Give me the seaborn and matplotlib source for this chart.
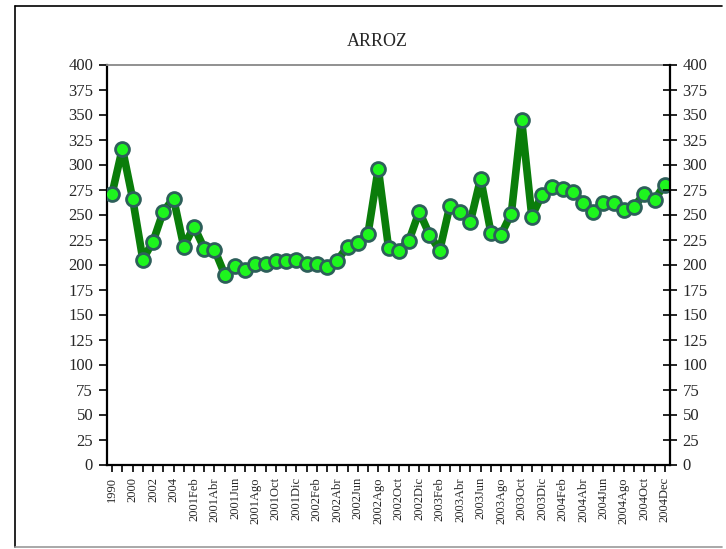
import matplotlib
matplotlib.use("Agg")
import matplotlib.pyplot as plt
from matplotlib.lines import Line2D
import seaborn as sns
import pandas as pd
import numpy as np

annual = ["1990", "1995", "2000", "2001", "2002", "2003", "2004"]
months_es = ["Ene", "Feb", "Mar", "Abr", "May", "Jun", "Jul", "Ago", "Sep", "Oct", "Nov", "Dic"]
months_04 = ["Ene", "Feb", "Mar", "Abr", "May", "Jun", "Jul", "Ago", "Sep", "Oct", "Nov", "Dec"]
categories = (annual
              + ["2001" + m for m in months_es]
              + ["2002" + m for m in months_es]
              + ["2003" + m for m in months_es]
              + ["2004" + m for m in months_04])

values = [271, 316, 266, 205, 223, 253, 266, 218, 238, 216,
          215, 190, 199, 195, 201, 201, 204, 204, 205, 201,
          201, 198, 204, 218, 222, 231, 296, 217, 214, 224,
          253, 230, 214, 259, 253, 243, 286, 232, 230, 251,
          345, 248, 270, 278, 276, 273, 262, 253, 262, 262,
          255, 258, 271, 265, 280]

y_ticks = list(range(0, 401, 25))
title = "ARROZ"

df = pd.DataFrame({"pos": np.arange(len(categories)), "cat": categories, "val": values})

sns.set_theme(style="white")
plt.rcParams["font.family"] = ["Liberation Serif", "DejaVu Serif"]

W, H = 726, 549
fig = plt.figure(figsize=(W / 100, H / 100), dpi=100)
ax = fig.add_axes([107 / W, 1 - 464.5 / H, (670 - 107) / W, (464.5 - 64.5) / H])

sns.lineplot(data=df, x="pos", y="val", ax=ax, color="#0a7d0a", linewidth=5.5,
             marker="o", markersize=10, markerfacecolor="#1ef51e",
             markeredgecolor="#2d5f5a", markeredgewidth=2, zorder=3)

ax.set_xlim(-0.5, len(categories) - 0.5)
ax.set_ylim(0, 400)
ax.set_yticks(y_ticks)
ax.set_yticklabels([str(v) for v in y_ticks], fontsize=12)
ax.set_xticks(df["pos"])
ax.set_xticklabels([c if i % 2 == 0 else "" for i, c in enumerate(categories)],
                   rotation=90, fontsize=9)
ax.set_xlabel("")
ax.set_ylabel("")
ax.tick_params(axis="x", direction="out", length=5, width=1.2, color="black", pad=4, bottom=True)
ax.tick_params(axis="y", direction="out", length=6, width=1.2, color="black", pad=4, left=True)

for s in ["left", "bottom"]:
    ax.spines[s].set_color("black")
    ax.spines[s].set_linewidth(1.6)
ax.spines["right"].set_visible(False)
ax.spines["top"].set_color("#888888")
ax.spines["top"].set_linewidth(1.3)

ax2 = ax.twinx()
ax2.set_ylim(0, 400)
ax2.set_yticks(y_ticks)
ax2.set_yticklabels([str(v) for v in y_ticks], fontsize=12)
ax2.tick_params(axis="y", direction="inout", length=10, width=1.2, color="black", pad=4, right=True)
for s in ["left", "bottom", "top"]:
    ax2.spines[s].set_visible(False)
ax2.spines["right"].set_color("black")
ax2.spines["right"].set_linewidth(1.6)
ax2.grid(False)
ax.grid(False)

fig.text(377 / W, 1 - 42 / H, title, ha="center", va="center", fontsize=13)

# outer frame
fx0, fx1, fy0, fy1 = 15 / W, 722 / W, 1 - 6 / H, 1 - 547 / H
fig.add_artist(Line2D([fx0, fx1], [fy0, fy0], color="black", lw=1.2, transform=fig.transFigure))
fig.add_artist(Line2D([fx0, fx0], [fy0, fy1], color="black", lw=1.2, transform=fig.transFigure))
fig.add_artist(Line2D([fx0, fx1], [fy1, fy1], color="#999999", lw=1.2, transform=fig.transFigure))

fig.savefig("out.png", dpi=100)
